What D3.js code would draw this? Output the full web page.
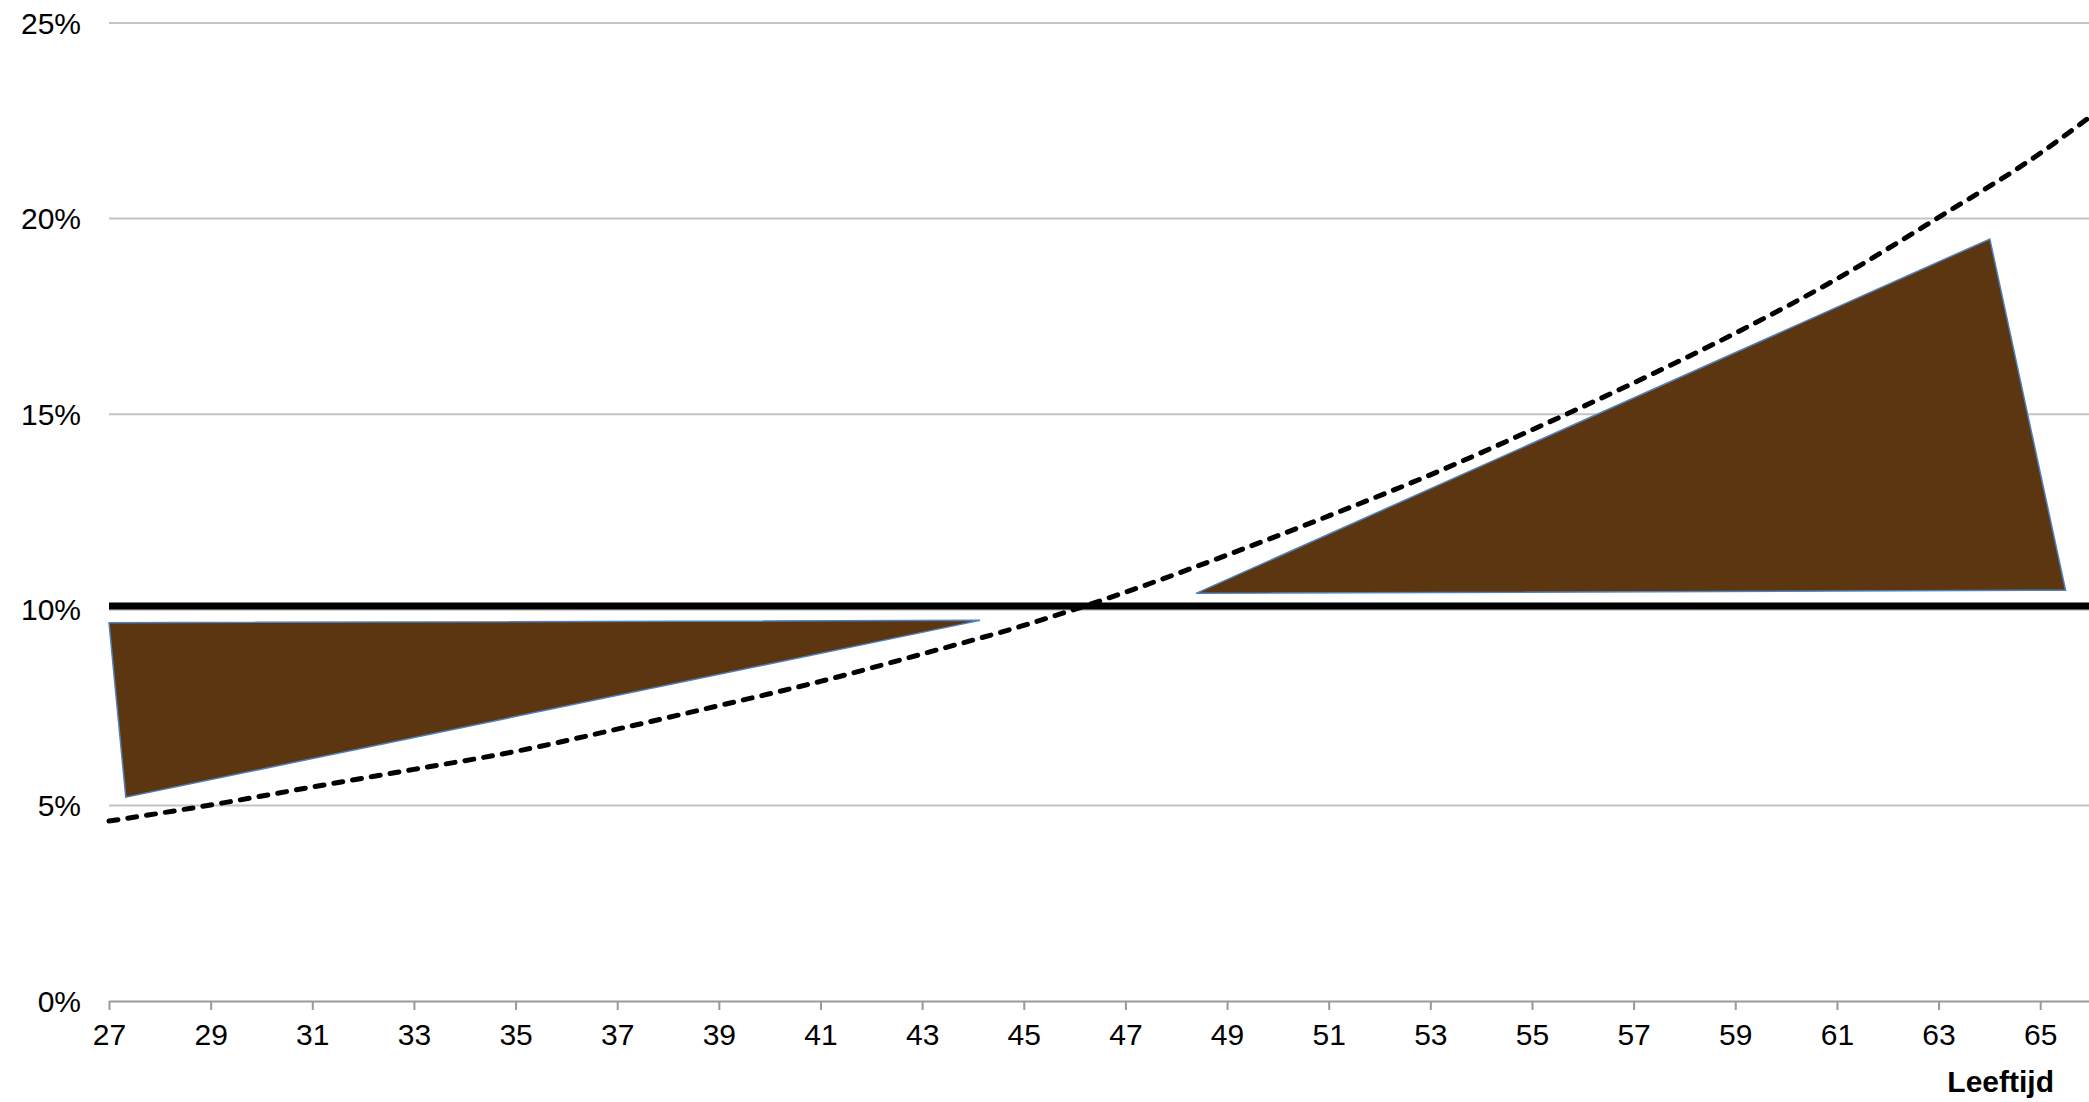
<!DOCTYPE html>
<html>
<head>
<meta charset="utf-8">
<script src="https://cdn.jsdelivr.net/npm/d3@7"></script>
<style>
  html, body { margin: 0; padding: 0; background: #fff; }
  svg { display: block; font-family: "Liberation Sans", Arial, sans-serif; }
</style>
</head>
<body>
<div id="chart"></div>
<script>
// ages on the x axis (labelled every 2 years)
const tickAges = [27, 29, 31, 33, 35, 37, 39, 41, 43, 45, 47, 49, 51, 53, 55, 57, 59, 61, 63, 65];
const yTicks = [0, 5, 10, 15, 20, 25];

// dashed curve
const curveAges = [27, 29, 31, 33, 35, 37, 39, 41, 43, 45, 47, 49, 51, 53, 55, 57, 59, 61, 63, 65, 66];
const curvePct = [4.6, 5.01, 5.47, 5.92, 6.38, 6.95, 7.55, 8.17, 8.87, 9.6, 10.45, 11.4, 12.4, 13.45, 14.6, 15.8, 17.07, 18.46, 20.03, 21.67, 22.62];

// flat black line
const flatAges = [27, 66];
const flatPct = [10.1, 10.1];

// brown shapes (corner points)
const lowShapeAges = [27, 27.33, 44.14];
const lowShapePct = [9.67, 5.21, 9.73];
const highShapeAges = [48.39, 64.01, 65.5];
const highShapePct = [10.42, 19.48, 10.5];

const width = 2089;
const height = 1102;

const svg = d3
  .select("#chart")
  .append("svg")
  .attr("width", width)
  .attr("height", height);

const x = d3.scaleLinear().domain([27, 66]).range([109, 2091]);
const y = d3.scaleLinear().domain([0, 25]).range([1001, 23]);

// gridlines
svg
  .append("g")
  .selectAll("line")
  .data(yTicks.filter((d) => d > 0))
  .enter()
  .append("line")
  .attr("x1", x(27))
  .attr("x2", width)
  .attr("y1", (d) => y(d))
  .attr("y2", (d) => y(d))
  .attr("stroke", "#c4c4c4")
  .attr("stroke-width", 2);

// y labels
svg
  .append("g")
  .selectAll("text")
  .data(yTicks)
  .enter()
  .append("text")
  .attr("x", 81)
  .attr("y", (d) => y(d))
  .attr("dy", "0.35em")
  .attr("text-anchor", "end")
  .style("font-size", "30px")
  .attr("fill", "#000")
  .text((d) => d + "%");

// x axis
const xAxis = svg
  .append("g")
  .attr("transform", `translate(0, ${y(0)})`)
  .call(
    d3
      .axisBottom(x)
      .tickValues(tickAges)
      .tickSize(9)
      .tickPadding(14)
      .tickSizeOuter(0)
      .tickFormat(d3.format("d"))
  );

xAxis.select(".domain").attr("stroke", "#999").attr("stroke-width", 2);
xAxis.selectAll(".tick line").attr("stroke", "#999").attr("stroke-width", 2);
xAxis
  .selectAll(".tick text")
  .style("font-size", "30px")
  .style("font-family", '"Liberation Sans", Arial, sans-serif')
  .attr("fill", "#000");

svg
  .append("text")
  .attr("x", 2054)
  .attr("y", 1092)
  .attr("text-anchor", "end")
  .style("font-size", "30px")
  .style("font-weight", "bold")
  .text("Leeftijd");

// brown shapes
const shapes = [
  d3.zip(lowShapeAges, lowShapePct),
  d3.zip(highShapeAges, highShapePct),
];

svg
  .append("g")
  .selectAll("path")
  .data(shapes)
  .enter()
  .append("path")
  .attr("d", (d) => d3.line().x((p) => x(p[0])).y((p) => y(p[1]))(d) + "Z")
  .attr("fill", "#5c3611")
  .attr("stroke", "#4f81bd")
  .attr("stroke-width", 1.5)
  .attr("stroke-linejoin", "miter");

// flat black line
svg
  .append("path")
  .datum(d3.zip(flatAges, flatPct))
  .attr("d", d3.line().x((p) => x(p[0])).y((p) => y(p[1])))
  .attr("stroke", "#000")
  .attr("stroke-width", 7)
  .attr("fill", "none");

// dashed curve
svg
  .append("path")
  .datum(d3.zip(curveAges, curvePct))
  .attr(
    "d",
    d3
      .line()
      .x((p) => x(p[0]))
      .y((p) => y(p[1]))
      .curve(d3.curveMonotoneX)
  )
  .attr("stroke", "#000")
  .attr("stroke-width", 5)
  .attr("stroke-dasharray", "9,10")
  .attr("stroke-linecap", "round")
  .attr("fill", "none");
</script>
</body>
</html>
